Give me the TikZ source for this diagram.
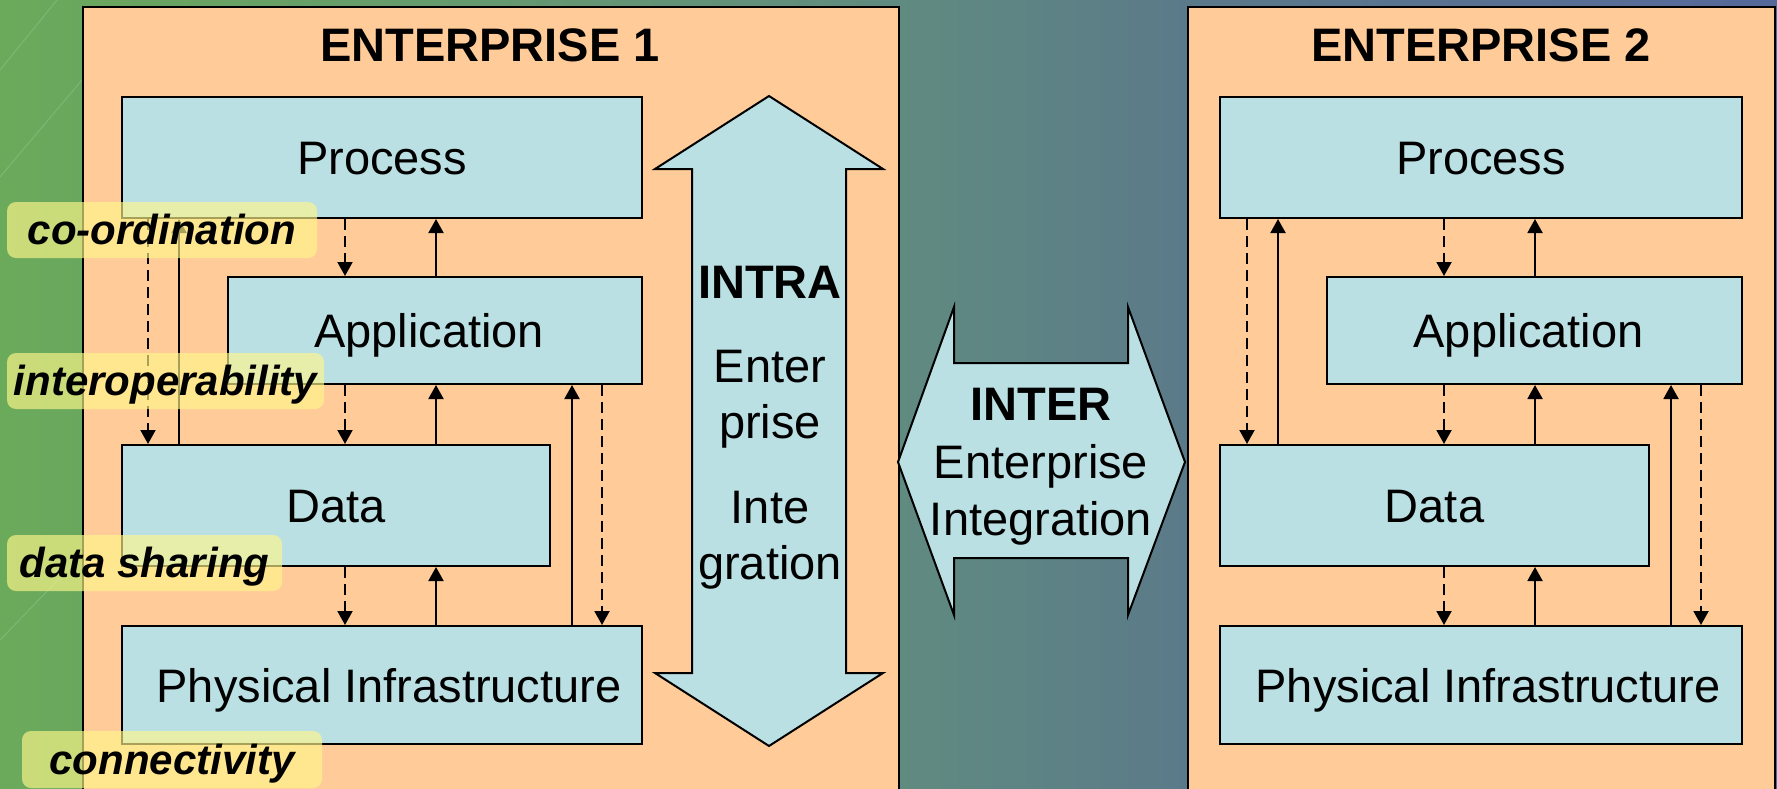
\documentclass[tikz,border=0pt]{standalone}
\usepackage{fontspec}
\setmainfont{Liberation Sans}
\usetikzlibrary{arrows.meta}
\definecolor{orangebox}{HTML}{FFCC99}
\definecolor{lblue}{HTML}{BBE0E3}
\definecolor{tagyellow}{HTML}{FFF78A}
\definecolor{bgA}{HTML}{6BAA5B}
\definecolor{bgB}{HTML}{608B80}
\definecolor{bgC}{HTML}{5B7A89}
\definecolor{bgD}{HTML}{56699B}
\begin{document}
\begin{tikzpicture}[x=1pt,y=-1pt,
  entbox/.style={draw=black, line width=2pt, fill=orangebox, inner sep=0pt, anchor=north west},
  layerbox/.style={draw=black, line width=2pt, fill=lblue, inner sep=0pt, text height=34pt, text depth=0pt,
    font=\fontsize{47}{56}\selectfont, anchor=north west},
  titletext/.style={font=\fontsize{47}{56}\selectfont\bfseries, anchor=base, inner sep=0pt},
  bigtext/.style={font=\fontsize{47}{56}\selectfont, anchor=base, inner sep=0pt},
  bigbold/.style={font=\fontsize{47}{56}\selectfont\bfseries, anchor=base, inner sep=0pt},
  tagbox/.style={fill=tagyellow, fill opacity=0.65, text opacity=1, rounded corners=9pt, inner sep=0pt,
    minimum height=56pt, text height=29pt, text depth=0pt, font=\fontsize{42}{50}\selectfont\bfseries\itshape},
  bigarrow/.style={draw=black, line width=2pt, fill=lblue, line join=miter},
  uparr/.style={line width=2pt, -{Triangle[length=14pt,width=15pt]}},
  dnarr/.style={line width=2pt, dash pattern=on 11pt off 6pt, -{Triangle[length=14pt,width=15pt]}}
]
\useasboundingbox (0,0) rectangle (1777,789);
% background
\fill[left color=bgA, right color=bgB] (0,0) rectangle (898,789);
\fill[left color=bgB, right color=bgC] (898,0) rectangle (1187,789);
\fill[left color=bgC, right color=bgD] (1187,0) rectangle (1777,789);
\draw[white, opacity=0.15, line width=1pt] (0,70) -- (57,0);
\draw[white, opacity=0.15, line width=1pt] (0,177) -- (82,80);
\draw[white, opacity=0.15, line width=1pt] (0,640) -- (82,555);

% enterprise frames
\node[entbox, minimum width=816pt, minimum height=800pt] (e1) at (82,6) {};
\node[entbox, minimum width=587pt, minimum height=800pt] (e2) at (1187,6) {};
\node[titletext] (t1) at (490,62) {ENTERPRISE 1};
\node[titletext] (t2) at (1481,62) {ENTERPRISE 2};

% INTRA arrow
\draw[bigarrow] (769,96) -- (883,169) -- (846,169) -- (846,673) -- (883,673) -- (769,746)
  -- (655,673) -- (692,673) -- (692,169) -- (655,169) -- cycle;
\node[bigbold] (intra) at (770,298) {INTRA};
\node[bigtext] (intra2) at (770,382) {Enter};
\node[bigtext] (intra3) at (770,438) {prise};
\node[bigtext] (intra4) at (770,523) {Inte};
\node[bigtext] (intra5) at (770,579) {gration};

% INTER arrow
\draw[bigarrow] (898,462) -- (954,307) -- (954,363) -- (1128,363) -- (1128,307) -- (1185,462)
  -- (1128,615) -- (1128,558) -- (954,558) -- (954,615) -- cycle;
\node[bigbold] (inter) at (1041,420) {INTER};
\node[bigtext] (inter2) at (1041,478) {Enterprise};
\node[bigtext] (inter3) at (1041,535) {Integration};

% layer boxes enterprise 1
\node[layerbox, minimum width=520pt, minimum height=121pt] (p1) at (121,96) {Process};
\node[layerbox, minimum width=414pt, minimum height=107pt] (a1) at (227,276) {Application\hspace*{12pt}};
\node[layerbox, minimum width=428pt, minimum height=121pt] (d1) at (121,444) {Data};
\node[layerbox, minimum width=520pt, minimum height=118pt] (f1) at (121,625) {\hspace*{14pt}Physical Infrastructure};
% layer boxes enterprise 2
\node[layerbox, minimum width=522pt, minimum height=121pt] (p2) at (1219,96) {Process};
\node[layerbox, minimum width=415pt, minimum height=107pt] (a2) at (1326,276) {Application\hspace*{12pt}};
\node[layerbox, minimum width=429pt, minimum height=121pt] (d2) at (1219,444) {Data};
\node[layerbox, minimum width=522pt, minimum height=118pt] (f2) at (1219,625) {\hspace*{14pt}Physical Infrastructure};

% column coordinates
\coordinate (ca) at (148,0);  \coordinate (cb) at (179,0);
\coordinate (cc) at (345,0);  \coordinate (cd) at (436,0);
\coordinate (ce) at (572,0);  \coordinate (cf) at (602,0);
\coordinate (ga) at (1247,0); \coordinate (gb) at (1278,0);
\coordinate (gc) at (1444,0); \coordinate (gd) at (1535,0);
\coordinate (ge) at (1671,0); \coordinate (gf) at (1701,0);

% connectors enterprise 1
\draw[dnarr] (p1.south -| cc) -- (a1.north -| cc);
\draw[uparr] (a1.north -| cd) -- (p1.south -| cd);
\draw[dnarr] (a1.south -| cc) -- (d1.north -| cc);
\draw[uparr] (d1.north -| cd) -- (a1.south -| cd);
\draw[dnarr] (d1.south -| cc) -- (f1.north -| cc);
\draw[uparr] (f1.north -| cd) -- (d1.south -| cd);
\draw[dnarr] (p1.south -| ca) -- (d1.north -| ca);
\draw[uparr] (d1.north -| cb) -- (p1.south -| cb);
\draw[uparr] (f1.north -| ce) -- (a1.south -| ce);
\draw[dnarr] (a1.south -| cf) -- (f1.north -| cf);
% connectors enterprise 2
\draw[dnarr] (p2.south -| gc) -- (a2.north -| gc);
\draw[uparr] (a2.north -| gd) -- (p2.south -| gd);
\draw[dnarr] (a2.south -| gc) -- (d2.north -| gc);
\draw[uparr] (d2.north -| gd) -- (a2.south -| gd);
\draw[dnarr] (d2.south -| gc) -- (f2.north -| gc);
\draw[uparr] (f2.north -| gd) -- (d2.south -| gd);
\draw[dnarr] (p2.south -| ga) -- (d2.north -| ga);
\draw[uparr] (d2.north -| gb) -- (p2.south -| gb);
\draw[uparr] (f2.north -| ge) -- (a2.south -| ge);
\draw[dnarr] (a2.south -| gf) -- (f2.north -| gf);

% tags
\node[tagbox, minimum width=310pt] (tag1) at (162,230) {co-ordination};
\node[tagbox, minimum width=317pt] (tag2) at (165.5,381) {interoperability};
\node[tagbox, minimum width=275pt] (tag3) at (144.5,563) {data sharing};
\node[tagbox, minimum width=300pt, minimum height=57pt] (tag4) at (172,759.5) {connectivity};
\end{tikzpicture}
\end{document}
